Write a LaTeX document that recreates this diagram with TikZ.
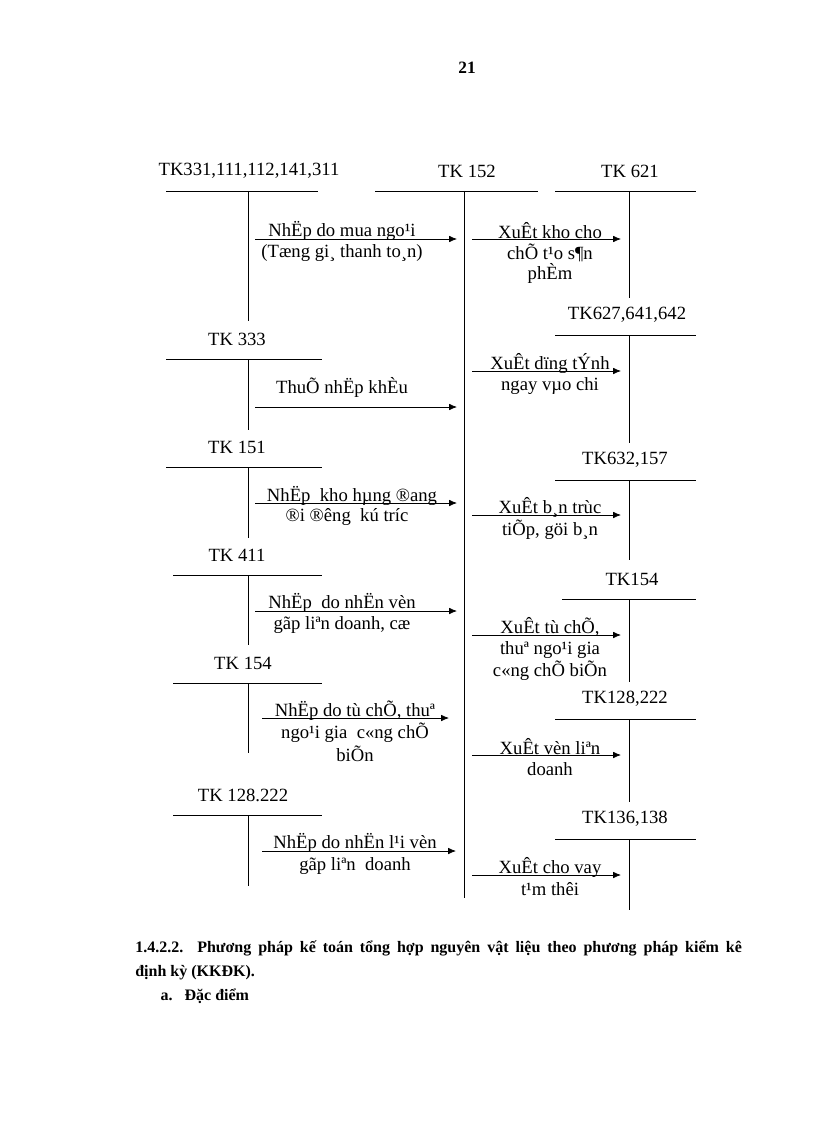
\documentclass[tikz,border=0pt]{standalone}
\usepackage{fontspec}
\setmainfont{Liberation Serif}
\usetikzlibrary{arrows.meta}
\begin{document}
\begin{tikzpicture}[x=0.75pt,y=-0.75pt,
  lbl/.style={font=\fontsize{14}{16}\selectfont,inner sep=0pt,anchor=center},
  acc/.style={line width=0.6pt},
  arr/.style={line width=0.6pt,-{Latex[length=6pt,width=5pt]}}]
\useasboundingbox (0,0) rectangle (816,1123);
\node[font=\bfseries\fontsize{13}{14}\selectfont] (pg) at (467,68) {21};
\newcommand{\tacc}[9]{%
  \node[lbl] (#1) at (#3,#4) {#2};
  \coordinate (#1a) at (#5,#8); \coordinate (#1b) at (#6,#8);
  \coordinate (#1t) at (#7,#8); \coordinate (#1e) at (#7,#9);
  \draw[acc] (#1a) -- (#1b); \draw[acc] (#1t) -- (#1e);}
\tacc{a1}{TK331,111,112,141,311}{249}{171}{166}{318}{248}{191}{321}
\tacc{k}{TK 152}{467}{171}{375}{538}{464}{191}{898}
\tacc{r1}{TK 621}{630}{171}{555}{696}{629}{191}{298}
\tacc{r2}{TK627,641,642}{627}{315}{555}{696}{629}{335}{443}
\tacc{a2}{TK 333}{237}{339}{166}{322}{248}{359}{430}
\tacc{a3}{TK 151}{237}{447}{166}{322}{248}{467}{538}
\tacc{r3}{TK632,157}{625}{460}{555}{696}{629}{480}{560}
\tacc{a4}{TK 411}{237}{555}{173}{322}{248}{575}{645}
\tacc{r4}{TK154}{632}{579}{562}{696}{629}{599}{682}
\tacc{a5}{TK 154}{243}{663}{173}{322}{248}{683}{753}
\tacc{r5}{TK128,222}{625}{699}{555}{696}{629}{719}{802}
\tacc{a6}{TK 128.222}{243}{795}{173}{322}{248}{815}{886}
\tacc{r6}{TK136,138}{625}{819}{555}{696}{629}{839}{910}
% left arrows
\coordinate (s1) at (255,239); \coordinate (e1) at (457,239);
\draw[arr] (s1) -- (e1);
\node[lbl] (t1a) at (342,231) {NhËp do mua ngo¹i};
\node[lbl] (t1b) at (342,253) {(Tæng gi¸ thanh to¸n)};
\coordinate (s2) at (255,407); \coordinate (e2) at (457,407);
\draw[arr] (s2) -- (e2);
\node[lbl] (t2) at (342,387) {ThuÕ nhËp khÈu};
\coordinate (s3) at (255,503); \coordinate (e3) at (457,503);
\draw[arr] (s3) -- (e3);
\node[lbl] (t3a) at (352,496) {NhËp\ \ kho hµng ®ang};
\node[lbl] (t3b) at (347,517) {®i ®êng\ \ kú tríc};
\coordinate (s4) at (255,611); \coordinate (e4) at (457,611);
\draw[arr] (s4) -- (e4);
\node[lbl] (t4a) at (342,603) {NhËp\ \ do nhËn vèn};
\node[lbl] (t4b) at (342,625) {gãp liªn\ doanh, cæ};
\coordinate (s5) at (262,718); \coordinate (e5) at (449,718);
\draw[arr] (s5) -- (e5);
\node[lbl] (t5a) at (355,711) {NhËp do tù chÕ, thuª};
\node[lbl] (t5b) at (355,733) {ngo¹i gia\ \ c«ng chÕ};
\node[lbl] (t5c) at (355,754) {biÕn};
\coordinate (s6) at (262,851); \coordinate (e6) at (456,851);
\draw[arr] (s6) -- (e6);
\node[lbl] (t6a) at (355,843) {NhËp do nhËn l¹i vèn};
\node[lbl] (t6b) at (355,866) {gãp liªn\ \ doanh};
% right arrows
\coordinate (u1) at (472,239); \coordinate (v1) at (621,239);
\draw[arr] (u1) -- (v1);
\node[lbl] (w1a) at (550,231) {XuÊt kho cho};
\node[lbl] (w1b) at (550,253) {chÕ t¹o s¶n};
\node[lbl] (w1c) at (550,273) {phÈm};
\coordinate (u2) at (472,371); \coordinate (v2) at (621,371);
\draw[arr] (u2) -- (v2);
\node[lbl] (w2a) at (550,363) {XuÊt dïng tÝnh};
\node[lbl] (w2b) at (550,386) {ngay vµo chi};
\coordinate (u3) at (472,515); \coordinate (v3) at (621,515);
\draw[arr] (u3) -- (v3);
\node[lbl] (w3a) at (550,507) {XuÊt b¸n trùc};
\node[lbl] (w3b) at (550,530) {tiÕp, göi b¸n};
\coordinate (u4) at (472,635); \coordinate (v4) at (621,635);
\draw[arr] (u4) -- (v4);
\node[lbl] (w4a) at (550,627) {XuÊt tù chÕ,};
\node[lbl] (w4b) at (550,650) {thuª ngo¹i gia};
\node[lbl] (w4c) at (550,671) {c«ng chÕ biÕn};
\coordinate (u5) at (472,755); \coordinate (v5) at (621,755);
\draw[arr] (u5) -- (v5);
\node[lbl] (w5a) at (550,747) {XuÊt vèn liªn};
\node[lbl] (w5b) at (550,769) {doanh};
\coordinate (u6) at (472,875); \coordinate (v6) at (621,875);
\draw[arr] (u6) -- (v6);
\node[lbl] (w6a) at (550,867) {XuÊt cho vay};
\node[lbl] (w6b) at (550,889) {t¹m thêi};
% bottom text
\node[anchor=north west,inner sep=0pt,text width=455pt,align=justify,
  font=\bfseries\fontsize{12}{18}\selectfont] (bt) at (135,941)
  {1.4.2.2. Phương pháp kế toán tổng hợp nguyên vật liệu theo phương pháp kiểm kê\linebreak định kỳ (KKĐK).\par
  \hspace*{19pt}a.\ \ \ Đặc điểm};
\end{tikzpicture}
\end{document}
